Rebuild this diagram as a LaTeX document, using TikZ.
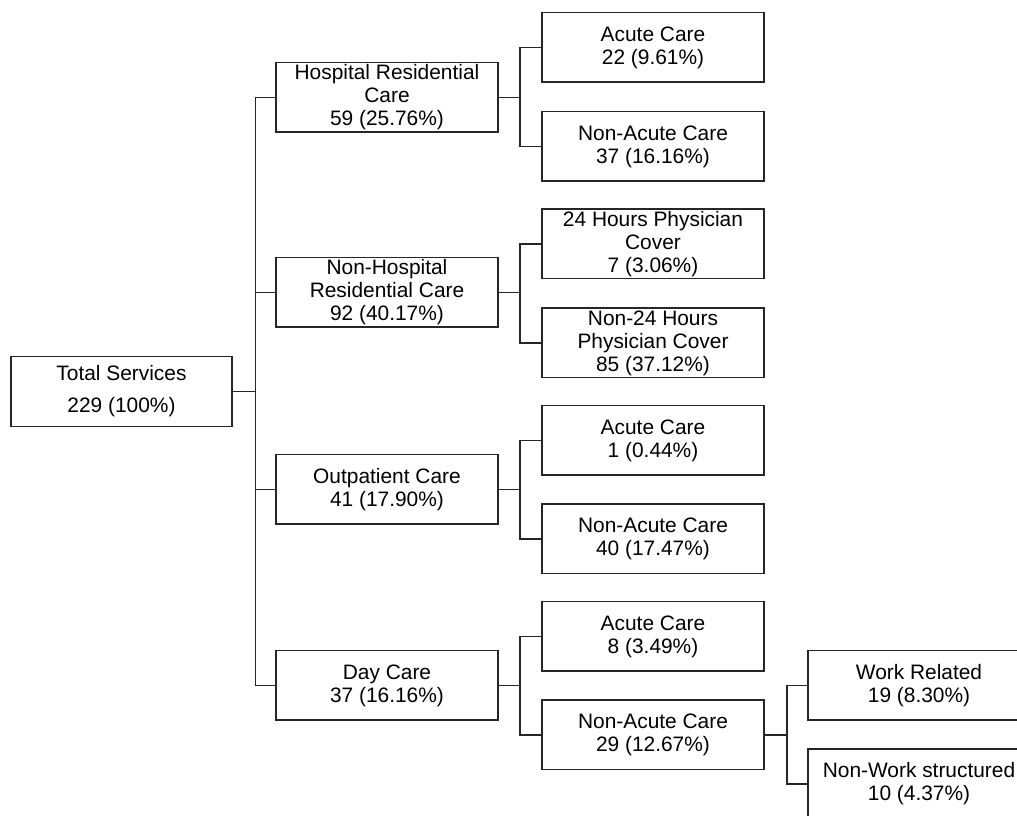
\documentclass[tikz,border=0pt]{standalone}
\usepackage{fontspec}
\setmainfont{Liberation Sans}
\begin{document}
\begin{tikzpicture}[x=1pt,y=1pt,
  box/.style={draw=black!85, line width=1.5pt, minimum width=222pt, minimum height=69.5pt,
    inner sep=0pt, align=center, font=\fontsize{20.9}{23}\selectfont},
  link/.style={draw=black!85, line width=1.5pt}]
\useasboundingbox (0,0) rectangle (1017,816);
\node[box, minimum width=221pt, minimum height=70pt, font=\fontsize{20.9}{32}\selectfont] (tot) at (121.5,424.5) {Total Services\\229 (100\%)};
\node[box] (hosp) at (387,718.5) {Hospital Residential\\Care\\59 (25.76\%)};
\node[box] (nhosp) at (387,523.5) {Non-Hospital\\Residential Care\\92 (40.17\%)};
\node[box] (outp) at (387,326.5) {Outpatient Care\\41 (17.90\%)};
\node[box] (day) at (387,130.5) {Day Care\\37 (16.16\%)};
\node[box] (ac1) at (653,768.5) {Acute Care\\22 (9.61\%)};
\node[box] (nac1) at (653,669.5) {Non-Acute Care\\37 (16.16\%)};
\node[box] (h24) at (653,572) {24 Hours Physician\\Cover\\7 (3.06\%)};
\node[box] (nh24) at (653,473) {Non-24 Hours\\Physician Cover\\85 (37.12\%)};
\node[box] (ac2) at (653,375.5) {Acute Care\\1 (0.44\%)};
\node[box] (nac2) at (653,277) {Non-Acute Care\\40 (17.47\%)};
\node[box] (ac3) at (653,179.5) {Acute Care\\8 (3.49\%)};
\node[box] (nac3) at (653,81) {Non-Acute Care\\29 (12.67\%)};
\node[box] (work) at (919,130.5) {Work Related\\19 (8.30\%)};
\node[box] (nwork) at (919,32) {Non-Work structured\\10 (4.37\%)};
\foreach \c in {hosp,nhosp,outp,day} \draw[link] (tot.east) -- ++(22.5,0) |- (\c.west);
\foreach \c in {ac1,nac1} \draw[link] (hosp.east) -- ++(21,0) |- (\c.west);
\foreach \c in {h24,nh24} \draw[link] (nhosp.east) -- ++(21,0) |- (\c.west);
\foreach \c in {ac2,nac2} \draw[link] (outp.east) -- ++(21,0) |- (\c.west);
\foreach \c in {ac3,nac3} \draw[link] (day.east) -- ++(21,0) |- (\c.west);
\foreach \c in {work,nwork} \draw[link] (nac3.east) -- ++(22,0) |- (\c.west);
\end{tikzpicture}
\end{document}
